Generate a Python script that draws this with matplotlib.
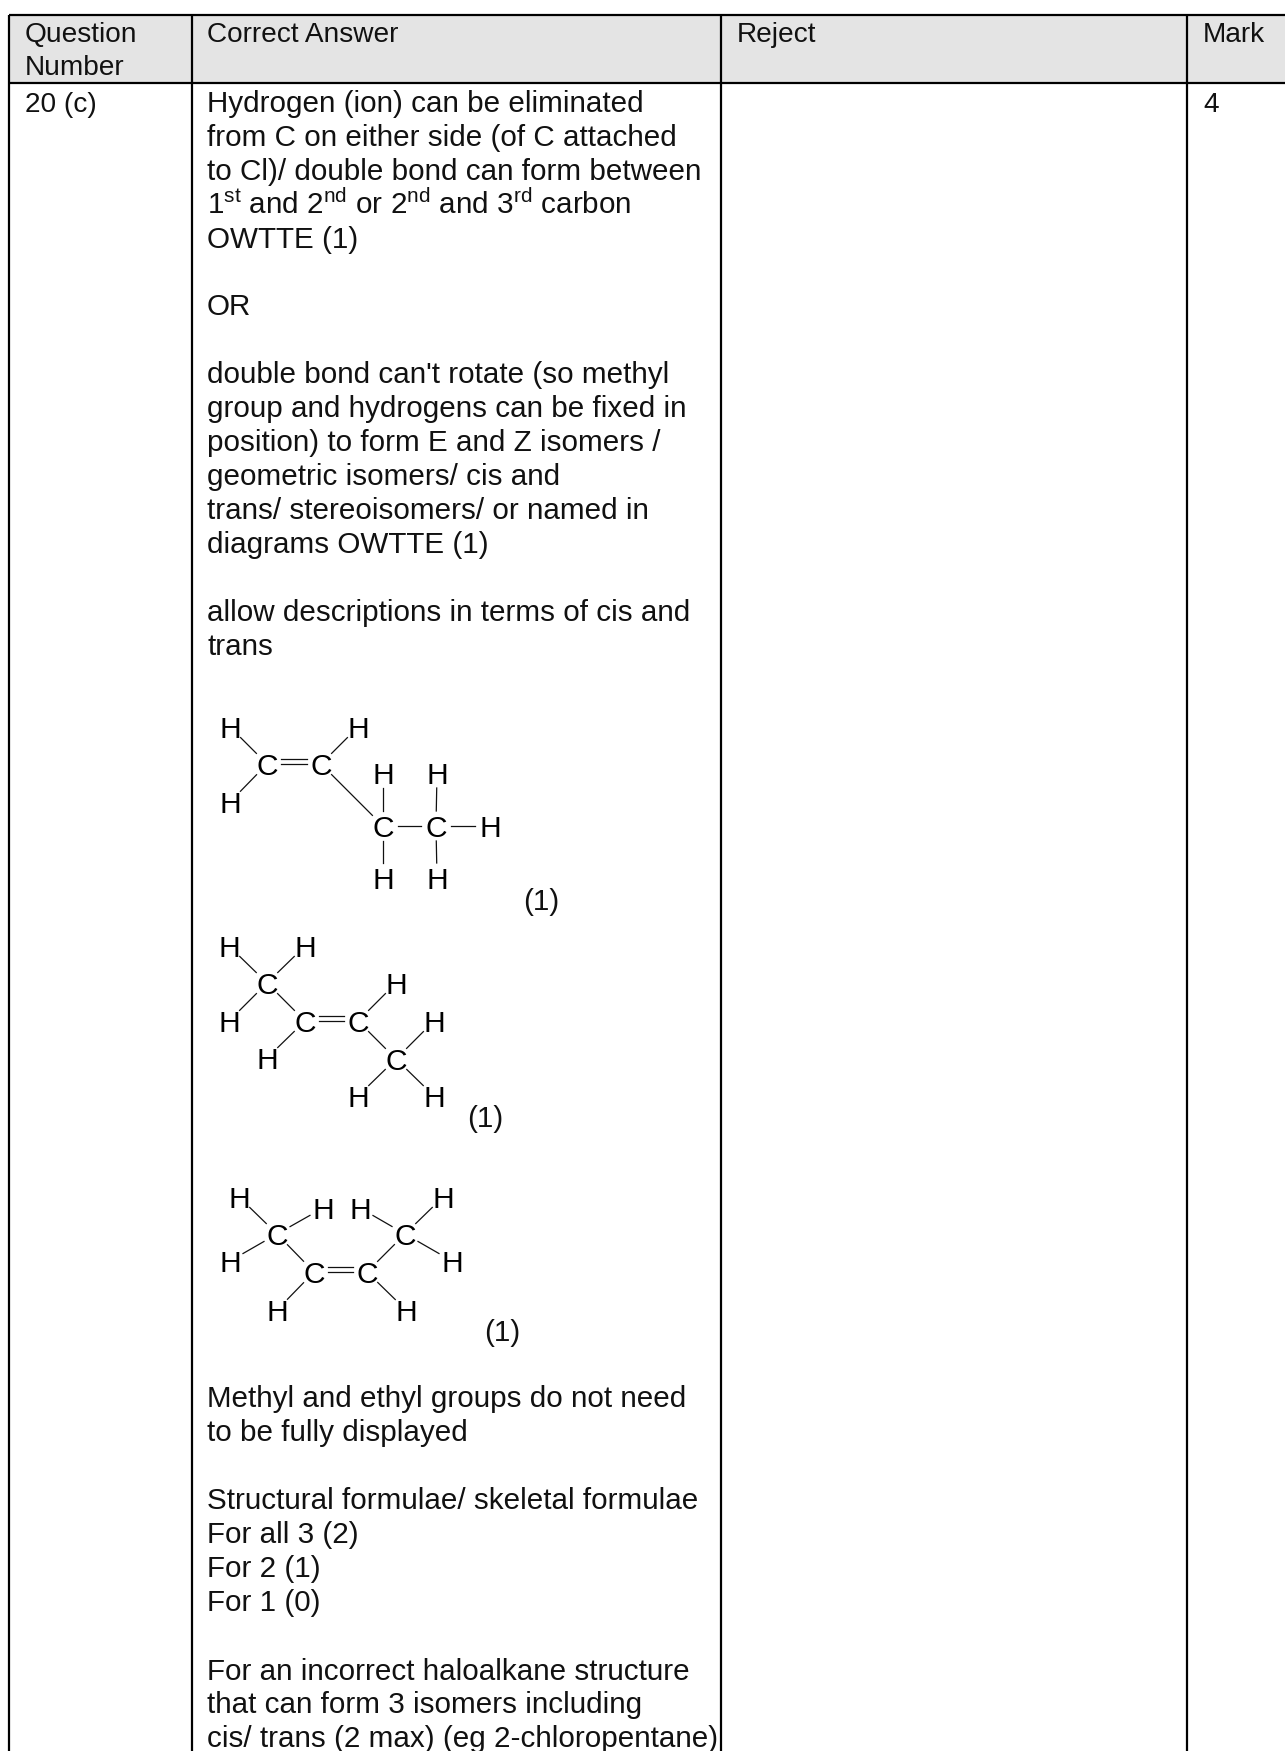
import matplotlib
matplotlib.use('Agg')
import matplotlib.pyplot as plt
import numpy as np

plt.rcParams['font.family'] = ['Liberation Sans', 'DejaVu Sans']
plt.rcParams['mathtext.fontset'] = 'custom'
plt.rcParams['mathtext.rm'] = 'Liberation Sans'
plt.rcParams['mathtext.default'] = 'regular'

W, H = 1285, 1751
FONT = 29.6 * 0.72
HEAD_FONT = 28 * 0.72
ATOM_FONT = 30 * 0.72

# text of the table
headers = ['Question', 'Number', 'Correct Answer', 'Reject', 'Mark']
header_x = [25, 25, 207, 737, 1203]
header_y = [42, 75, 42, 42, 42]

answer_lines = ['Hydrogen (ion) can be eliminated',
                'from C on either side (of C attached',
                'to Cl)/ double bond can form between',
                '1$^{st}$ and 2$^{nd}$ or 2$^{nd}$ and 3$^{rd}$ carbon',
                'OWTTE (1)',
                'OR',
                "double bond can't rotate (so methyl",
                'group and hydrogens can be fixed in',
                'position) to form E and Z isomers /',
                'geometric isomers/ cis and',
                'trans/ stereoisomers/ or named in',
                'diagrams OWTTE (1)',
                'allow descriptions in terms of cis and',
                'trans',
                'Methyl and ethyl groups do not need',
                'to be fully displayed',
                'Structural formulae/ skeletal formulae',
                'For all 3 (2)',
                'For 2 (1)',
                'For 1 (0)',
                'For an incorrect haloalkane structure',
                'that can form 3 isomers including',
                'cis/ trans (2 max) (eg 2-chloropentane)']
answer_y = [112, 146, 180, 214, 248, 315, 383, 417, 451, 485, 519, 553,
            621, 655, 1407, 1441, 1509, 1543, 1577, 1611, 1680, 1713, 1747]

# table rules
col_lines = [9, 192, 721, 1187]
row_lines = [15, 83]

# structures, in pixels of the page
s1_atoms = [('H', 230, 727), ('C', 267, 764), ('C', 321, 764), ('H', 358, 727), ('H', 230, 802),
            ('H', 383, 773), ('H', 437, 773), ('C', 383, 826), ('C', 436, 826), ('H', 490, 826),
            ('H', 383, 878), ('H', 437, 878)]
s1_bonds = [(0, 1), (4, 1), (2, 3), (2, 7), (5, 7), (6, 8), (7, 8), (8, 9), (7, 10), (8, 11)]
s1_double = (1, 2)

s2_atoms = [('H', 229, 946), ('H', 305, 946), ('C', 267, 983), ('H', 229, 1021), ('C', 305, 1021),
            ('C', 358, 1021), ('H', 267, 1058), ('H', 396, 983), ('H', 434, 1021), ('C', 396, 1059),
            ('H', 358, 1096), ('H', 434, 1096)]
s2_bonds = [(0, 2), (1, 2), (3, 2), (2, 4), (4, 6), (5, 7), (5, 9), (8, 9), (9, 10), (9, 11)]
s2_double = (4, 5)

s3_atoms = [('H', 239, 1197), ('H', 323, 1208), ('C', 277, 1234), ('H', 230, 1261), ('C', 314, 1272),
            ('C', 367, 1272), ('H', 277, 1310), ('H', 360, 1208), ('C', 405, 1234), ('H', 443, 1197),
            ('H', 452, 1261), ('H', 406, 1310)]
s3_bonds = [(0, 2), (1, 2), (3, 2), (2, 4), (4, 6), (5, 8), (5, 11), (7, 8), (9, 8), (10, 8)]
s3_double = (4, 5)

mark_one_x = [523, 467, 484]
mark_one_y = [910, 1127, 1341]

fig = plt.figure(figsize=(W / 100, H / 100), dpi=100)
ax = fig.add_axes([0, 0, 1, 1])
ax.set_xlim(0, W)
ax.set_ylim(H, 0)
ax.axis('off')

ax.fill_between([col_lines[0], W], row_lines[0], row_lines[1], color='#e4e4e4', lw=0)
for y in row_lines:
    ax.plot([col_lines[0], W], [y, y], color='black', lw=1.6, solid_capstyle='butt')
for x in col_lines:
    ax.plot([x, x], [row_lines[0], H], color='black', lw=1.6, solid_capstyle='butt')


def put_text(x, y, s, size=FONT):
    ax.text(x, y, s, fontsize=size, color='#111111', ha='left', va='baseline')


for s, x, y in zip(headers, header_x, header_y):
    put_text(x, y, s, HEAD_FONT)
put_text(25, 112, '20 (c)', HEAD_FONT)
put_text(1203, 112, '4', HEAD_FONT)
for s, y in zip(answer_lines, answer_y):
    put_text(207, y, s)


def draw_structure(atoms, bonds, double):
    for s, x, y in atoms:
        ax.text(x, y, s, fontsize=ATOM_FONT, color='black', ha='center', va='center_baseline')
    for a, b in bonds:
        p = np.array(atoms[a][1:], dtype=float)
        q = np.array(atoms[b][1:], dtype=float)
        d = (q - p) / np.hypot(*(q - p))
        p1 = p + d * 15
        q1 = q - d * 15
        ax.plot([p1[0], q1[0]], [p1[1], q1[1]], color='#111111', lw=0.9)
    x1, y1 = atoms[double[0]][1:]
    x2 = atoms[double[1]][1]
    for off in (-5, 0):
        ax.plot([x1 + 14, x2 - 14], [y1 + off, y1 + off], color='#111111', lw=0.9)


draw_structure(s1_atoms, s1_bonds, s1_double)
draw_structure(s2_atoms, s2_bonds, s2_double)
draw_structure(s3_atoms, s3_bonds, s3_double)

for x, y in zip(mark_one_x, mark_one_y):
    put_text(x, y, '(1)')

fig.savefig('out.png', dpi=100)
